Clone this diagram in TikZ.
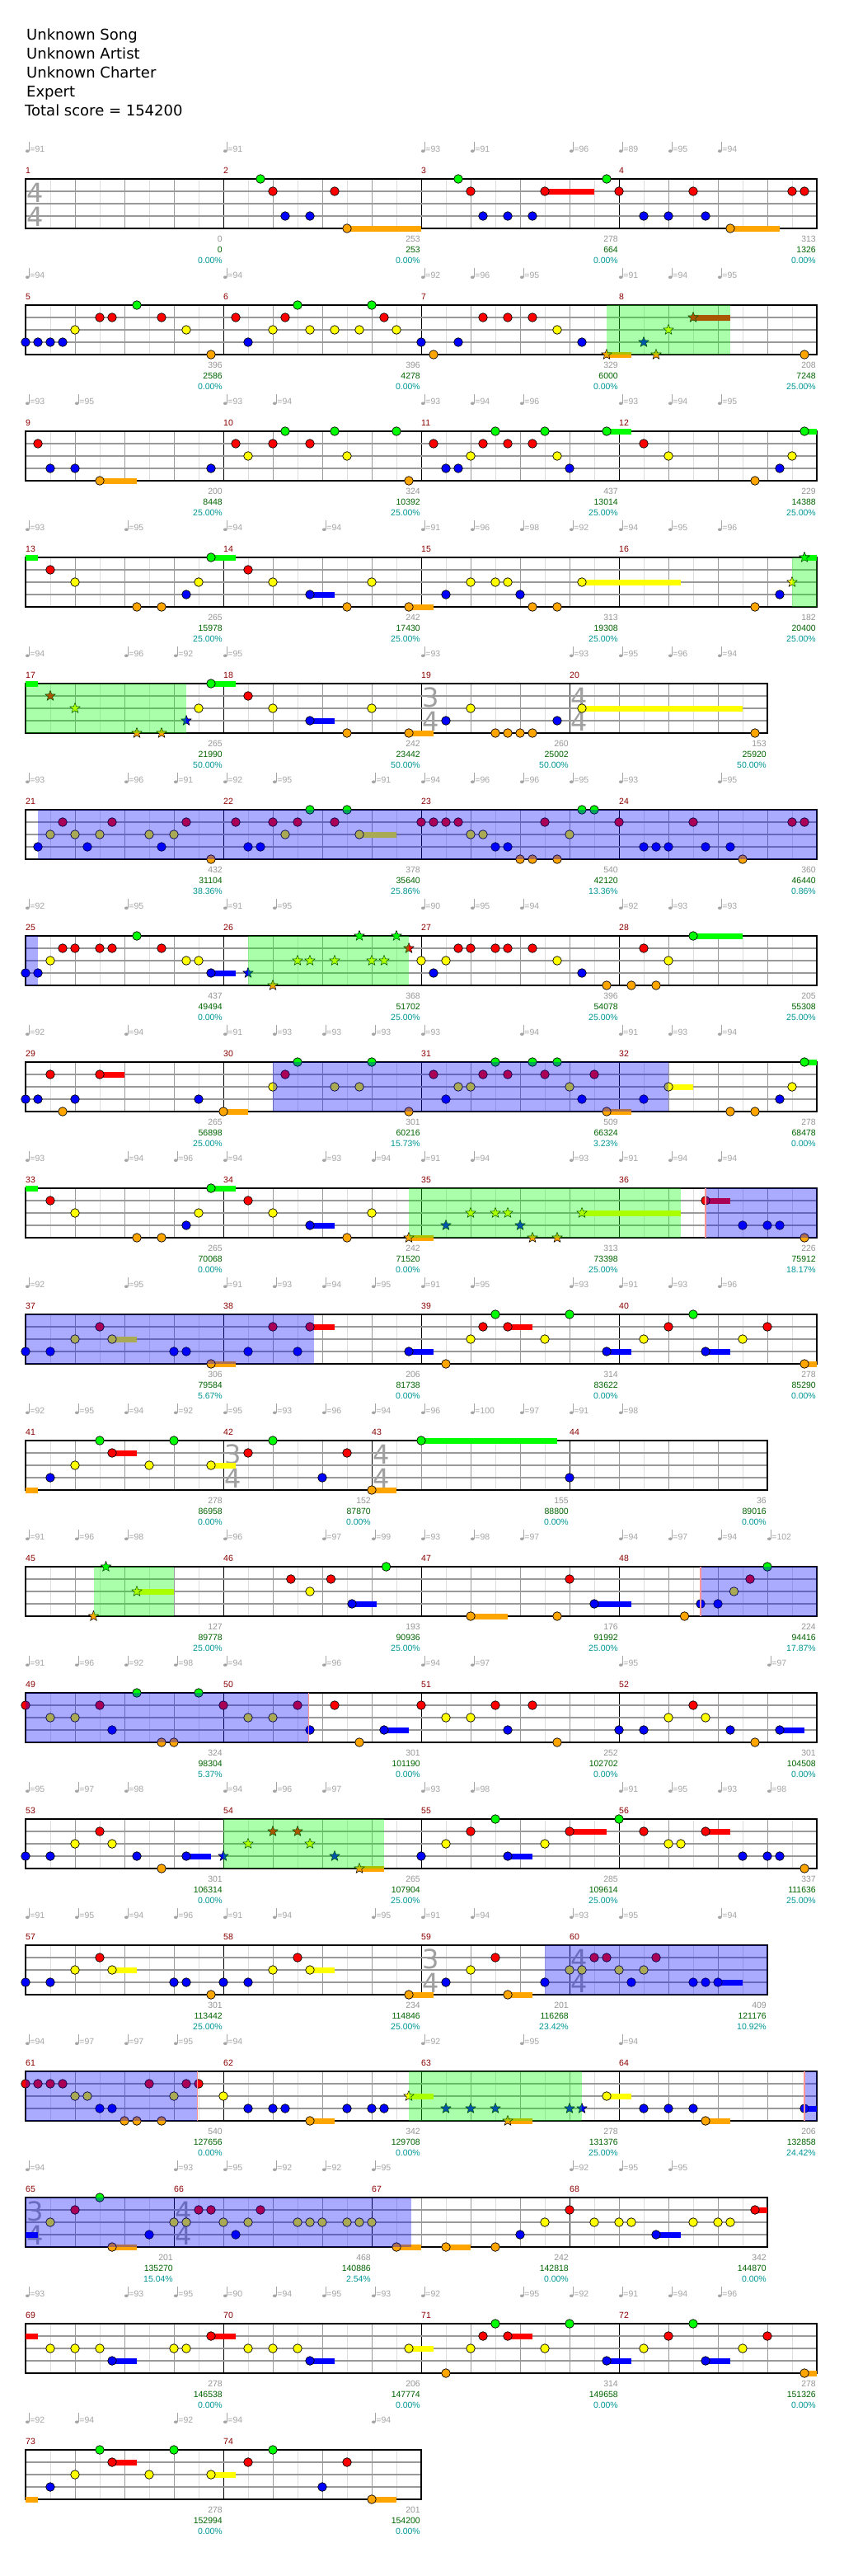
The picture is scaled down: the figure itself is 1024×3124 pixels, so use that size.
\documentclass[tikz,border=0pt]{standalone}
\usepackage{fontspec}
\setmainfont{DejaVu Sans}
\newfontfamily\smallf{Liberation Sans}
\usetikzlibrary{shapes.geometric}
\definecolor{cG}{RGB}{0,255,0}
\definecolor{cR}{RGB}{255,0,0}
\definecolor{cY}{RGB}{255,255,0}
\definecolor{cB}{RGB}{0,0,255}
\definecolor{cO}{RGB}{255,165,0}
\definecolor{tgray}{RGB}{165,165,165}
\definecolor{scgray}{RGB}{150,150,150}
\definecolor{totg}{RGB}{0,100,0}
\definecolor{pctc}{RGB}{0,150,150}
\definecolor{mnumc}{RGB}{139,0,0}
\definecolor{lgridc}{RGB}{221,221,221}
\definecolor{dgridc}{RGB}{153,153,153}
\definecolor{pinkc}{RGB}{255,150,150}
\definecolor{tsc}{RGB}{160,160,160}
\def\lyG{0}\def\lyR{15}\def\lyY{30}\def\lyB{45}\def\lyO{60}
\tikzset{
  lgrid/.style={draw=lgridc,line width=0.8pt},
  dgrid/.style={draw=dgridc,line width=0.8pt},
  mline/.style={draw=black,line width=0.8pt},
  hline/.style={draw=dgridc,line width=1.2pt},
  border/.style={draw=black,line width=1.3pt},
  notec/.style={draw=black,line width=0.7pt},
  starn/.style={star,star points=5,star point ratio=2.3,minimum size=13pt,inner sep=0pt,draw=black,line width=0.5pt},
  smalltxt/.style={inner sep=0pt,font=\smallf\fontsize{10.5}{12}\selectfont},
  titletxt/.style={anchor=base west,inner sep=0pt,font=\fontsize{18}{20}\selectfont},
  tsfont/.style={inner sep=0pt,text=tsc,font=\fontsize{32}{34}\selectfont}
}
\newcommand\grid[2]{%
  \pgfmathtruncatemacro\lastl{#1-2}\pgfmathtruncatemacro\lastg{#1-4}%
  \foreach \k in {2,6,...,\lastl} \draw[lgrid] (\k,0)--(\k,60);
  \foreach \k in {4,8,...,\lastg} \draw[dgrid] (\k,0)--(\k,60);
  \foreach \k in {#2} \draw[mline] (\k,0)--(\k,60);
  \foreach \v in {15,30,45} \draw[hline] (0,\v)--(#1,\v);
  \draw[border] (0,0) rectangle (#1,60);
}
\newcommand\NT[2]{\foreach \s in {#2}{\filldraw[notec,fill=c#1] (\s,\csname ly#1\endcsname) circle[radius=5.3pt];}}
\newcommand\ST[2]{\foreach \s in {#2}{\node[starn,fill=c#1] at (\s,\csname ly#1\endcsname) {};}}
\newcommand\SU[2]{\foreach \a/\b in {#2}{\fill[c#1] (\a,\csname ly#1\endcsname-3.5) rectangle (\b,\csname ly#1\endcsname+3.5);}}
\newcommand\SPR[2]{\fill[cG,fill opacity=0.333] (#1,0) rectangle (#2,60);}
\newcommand\BPR[2]{\fill[cB,fill opacity=0.333] (#1,0) rectangle (#2,60);}
\newcommand\PK[1]{\draw[pinkc,line width=1.5pt] (#1,0)--(#1,60);}
\newcommand\TS[3]{\node[tsfont] at ([xshift=12pt]#1,17) {#2};\node[tsfont] at ([xshift=12pt]#1,46) {#3};}
\newcommand\TP[1]{\foreach \s/\v in {#1}{%
  \fill[tgray] ([xshift=2.3pt]\s,-33.8) ellipse[x radius=2.4pt,y radius=1.8pt];
  \draw[tgray,line width=0.7pt] ([xshift=4.5pt]\s,-33.8) -- ([xshift=4.5pt]\s,-45);
  \node[smalltxt,anchor=base west,text=tgray] at ([xshift=5.2pt]\s,-32.3) {=\v};}}
\newcommand\MS[6]{%
  \node[smalltxt,anchor=base west,text=mnumc] at (#1,-7) {#3};
  \node[smalltxt,anchor=base east,text=scgray] at ([xshift=-1pt]#2,76) {#4};
  \node[smalltxt,anchor=base east,text=totg] at ([xshift=-1pt]#2,89) {#5};
  \node[smalltxt,anchor=base east,text=pctc] at ([xshift=-1pt]#2,102) {#6};}
\begin{document}
\begin{tikzpicture}[x=1pt,y=-1pt]
\path[use as bounding box,fill=white] (0,0) rectangle (1024,3124);
\node[titletxt] (t1) at (32,48.2) {Unknown Song};
\node[titletxt] (t2) at (32,71.5) {Unknown Artist};
\node[titletxt] (t3) at (32,94.5) {Unknown Charter};
\node[titletxt] (t4) at (32,117.5) {Expert};
\node[titletxt] (t5) at (30,140.5) {Total score = 154200};
% Row 0
\begin{scope}[shift={(31,217)},x=15pt]
\TP{0/91,16/91,32/93,36/91,44/96,48/89,52/95,56/94}
\grid{64}{16,32,48}
\TS{0}{4}{4}
\MS{0}{16}{1}{0}{0}{0.00\%}\MS{16}{32}{2}{253}{253}{0.00\%}\MS{32}{48}{3}{278}{664}{0.00\%}\MS{48}{64}{4}{313}{1326}{0.00\%}
\SU{R}{42/46}\SU{O}{26/32,57/61}
\NT{G}{19,35,47}\NT{R}{20,25,36,42,48,54,62,63}\NT{B}{21,23,37,39,41,50,52,55}\NT{O}{26,57}
\end{scope}
% Row 1
\begin{scope}[shift={(31,370)},x=15pt]
\TP{0/94,16/94,32/92,36/96,40/95,48/91,52/94,56/95}
\grid{64}{16,32,48}
\MS{0}{16}{5}{396}{2586}{0.00\%}\MS{16}{32}{6}{396}{4278}{0.00\%}\MS{32}{48}{7}{329}{6000}{0.00\%}\MS{48}{64}{8}{208}{7248}{25.00\%}
\SU{O}{47/49}\SU{R}{54/57}
\NT{G}{9,22,28}\NT{R}{6,7,11,17,21,29,37,39,41}\NT{Y}{4,13,20,23,25,27,30,43}\NT{B}{0,1,2,3,18,32,35,45}\NT{O}{15,33,63}
\ST{O}{47,51}\ST{B}{50}\ST{Y}{52}\ST{R}{54}
\SPR{47}{57}
\end{scope}
% Row 2
\begin{scope}[shift={(31,523)},x=15pt]
\TP{0/93,4/95,16/93,20/94,32/93,36/94,40/96,48/93,52/94,56/95}
\grid{64}{16,32,48}
\MS{0}{16}{9}{200}{8448}{25.00\%}\MS{16}{32}{10}{324}{10392}{25.00\%}\MS{32}{48}{11}{437}{13014}{25.00\%}\MS{48}{64}{12}{229}{14388}{25.00\%}
\SU{G}{47/49,63/64}\SU{O}{6/9}
\NT{G}{21,25,30,38,42,47,63}\NT{R}{1,17,20,23,33,37,39,41,50}\NT{Y}{18,26,36,43,52,62}\NT{B}{2,4,15,34,35,44,61}\NT{O}{6,31,59}
\end{scope}
% Row 3
\begin{scope}[shift={(31,676)},x=15pt]
\TP{0/93,8/95,16/94,24/94,32/91,36/96,40/98,44/92,48/94,52/95,56/96}
\grid{64}{16,32,48}
\MS{0}{16}{13}{265}{15978}{25.00\%}\MS{16}{32}{14}{242}{17430}{25.00\%}\MS{32}{48}{15}{313}{19308}{25.00\%}\MS{48}{64}{16}{182}{20400}{25.00\%}
\SU{G}{0/1,15/17,63/64}\SU{Y}{45/53}\SU{B}{23/25}\SU{O}{31/33}
\NT{G}{15}\NT{R}{2,18}\NT{Y}{4,14,20,28,36,38,39,45}\NT{B}{13,23,34,40,61}\NT{O}{9,11,26,31,41,43,59}
\ST{G}{63}\ST{Y}{62}
\SPR{62}{64}
\end{scope}
% Row 4
\begin{scope}[shift={(31,829)},x=15pt]
\TP{0/94,8/96,12/92,16/95,32/93,44/93,48/95,52/96,56/94}
\grid{60}{16,32,44}
\TS{32}{3}{4}\TS{44}{4}{4}
\MS{0}{16}{17}{265}{21990}{50.00\%}\MS{16}{32}{18}{242}{23442}{50.00\%}\MS{32}{44}{19}{260}{25002}{50.00\%}\MS{44}{60}{20}{153}{25920}{50.00\%}
\SU{G}{0/1,15/17}\SU{Y}{45/58}\SU{B}{23/25}\SU{O}{31/33}
\NT{G}{15}\NT{R}{18}\NT{Y}{14,20,28,36,45}\NT{B}{23,34,43}\NT{O}{26,31,38,39,40,41,59}
\ST{R}{2}\ST{Y}{4}\ST{B}{13}\ST{O}{9,11}
\SPR{0}{13}
\end{scope}
% Row 5
\begin{scope}[shift={(31,982)},x=15pt]
\TP{0/93,8/96,12/91,16/92,20/95,28/91,32/94,36/96,40/96,44/95,48/93,56/95}
\grid{64}{16,32,48}
\MS{0}{16}{21}{432}{31104}{38.36\%}\MS{16}{32}{22}{378}{35640}{25.86\%}\MS{32}{48}{23}{540}{42120}{13.36\%}\MS{48}{64}{24}{360}{46440}{0.86\%}
\SU{Y}{27/30}
\NT{G}{23,26,45,46}\NT{R}{3,7,13,17,20,22,25,32,33,34,35,42,48,54,62,63}\NT{Y}{2,4,6,10,12,21,27,36,37,44}\NT{B}{1,5,11,18,19,38,39,50,51,52,55,57}\NT{O}{15,40,41,43,58}
\BPR{1}{64}
\end{scope}
% Row 6
\begin{scope}[shift={(31,1135)},x=15pt]
\TP{0/92,8/95,16/91,20/95,32/90,36/95,40/94,48/92,52/93,56/93}
\grid{64}{16,32,48}
\MS{0}{16}{25}{437}{49494}{0.00\%}\MS{16}{32}{26}{368}{51702}{25.00\%}\MS{32}{48}{27}{396}{54078}{25.00\%}\MS{48}{64}{28}{205}{55308}{25.00\%}
\SU{G}{54/58}\SU{B}{15/17}
\NT{G}{9,54}\NT{R}{3,4,6,7,11,35,36,38,39,41,50}\NT{Y}{2,13,14,32,34,43,52}\NT{B}{0,1,15,33,45}\NT{O}{47,49,51}
\ST{G}{27,30}\ST{R}{31}\ST{Y}{22,23,25,28,29}\ST{B}{18}\ST{O}{20}
\BPR{0}{1}\SPR{18}{31}
\end{scope}
% Row 7
\begin{scope}[shift={(31,1288)},x=15pt]
\TP{0/92,8/94,16/91,20/93,24/93,28/93,32/93,40/94,48/91,52/93,56/94}
\grid{64}{16,32,48}
\MS{0}{16}{29}{265}{56898}{25.00\%}\MS{16}{32}{30}{301}{60216}{15.73\%}\MS{32}{48}{31}{509}{66324}{3.23\%}\MS{48}{64}{32}{278}{68478}{0.00\%}
\SU{G}{63/64}\SU{R}{6/8}\SU{Y}{52/54}\SU{O}{16/18,47/49}
\NT{G}{22,28,38,41,43,63}\NT{R}{2,6,21,33,37,39,42,46}\NT{Y}{20,25,27,35,36,44,52,62}\NT{B}{0,1,4,14,34,45,50,61}\NT{O}{3,16,31,47,57,59}
\BPR{20}{52}
\end{scope}
% Row 8
\begin{scope}[shift={(31,1441)},x=15pt]
\TP{0/93,8/94,12/96,16/94,24/93,28/94,32/91,36/94,44/93,48/91,52/94,56/94}
\grid{64}{16,32,48}
\MS{0}{16}{33}{265}{70068}{0.00\%}\MS{16}{32}{34}{242}{71520}{0.00\%}\MS{32}{48}{35}{313}{73398}{25.00\%}\MS{48}{64}{36}{226}{75912}{18.17\%}
\SU{G}{0/1,15/17}\SU{R}{55/57}\SU{Y}{45/53}\SU{B}{23/25}\SU{O}{31/33}
\NT{G}{15}\NT{R}{2,18,55}\NT{Y}{4,14,20,28}\NT{B}{13,23,58,60,61}\NT{O}{9,11,26,63}
\ST{Y}{36,38,39,45}\ST{B}{34,40}\ST{O}{31,41,43}
\SPR{31}{53}\BPR{55}{64}\PK{55}
\end{scope}
% Row 9
\begin{scope}[shift={(31,1594)},x=15pt]
\TP{0/92,8/95,16/91,20/93,24/94,28/95,32/91,36/95,44/93,48/91,52/93,56/96}
\grid{64}{16,32,48}
\MS{0}{16}{37}{306}{79584}{5.67\%}\MS{16}{32}{38}{206}{81738}{0.00\%}\MS{32}{48}{39}{314}{83622}{0.00\%}\MS{48}{64}{40}{278}{85290}{0.00\%}
\SU{R}{23/25,39/41}\SU{Y}{7/9}\SU{B}{31/33,47/49,55/57}\SU{O}{15/17,63/64}
\NT{G}{38,44,54}\NT{R}{6,20,23,37,39,52,60}\NT{Y}{4,7,36,42,50,58}\NT{B}{0,2,12,13,18,22,31,47,55}\NT{O}{15,34,63}
\BPR{0}{23.3}
\end{scope}
% Row 10
\begin{scope}[shift={(31,1747)},x=15pt]
\TP{0/92,4/95,8/94,12/92,16/95,20/93,24/96,28/94,32/96,36/100,40/97,44/91,48/98}
\grid{60}{16,28,44}
\TS{16}{3}{4}\TS{28}{4}{4}
\MS{0}{16}{41}{278}{86958}{0.00\%}\MS{16}{28}{42}{152}{87870}{0.00\%}\MS{28}{44}{43}{155}{88800}{0.00\%}\MS{44}{60}{44}{36}{89016}{0.00\%}
\SU{G}{32/43}\SU{R}{7/9}\SU{Y}{15/17}\SU{O}{0/1,28/30}
\NT{G}{6,12,20,32}\NT{R}{7,18,26}\NT{Y}{4,10,15}\NT{B}{2,24,44}\NT{O}{28}
\end{scope}
% Row 11
\begin{scope}[shift={(31,1900)},x=15pt]
\TP{0/91,4/96,8/98,16/96,24/97,28/99,32/93,36/98,40/97,48/94,52/97,56/94,60/102}
\grid{64}{16,32,48}
\MS{0}{16}{45}{127}{89778}{25.00\%}\MS{16}{32}{46}{193}{90936}{25.00\%}\MS{32}{48}{47}{176}{91992}{25.00\%}\MS{48}{64}{48}{224}{94416}{17.87\%}
\SU{Y}{9/12}\SU{B}{26.4/28.4,46/49}\SU{O}{36/39}
\NT{G}{29.17,60}\NT{R}{21.46,24.7,44,58.6}\NT{Y}{23,57.3}\NT{B}{26.4,46,54.6,56}\NT{O}{36,43,53.3}
\ST{G}{6.5}\ST{Y}{9}\ST{O}{5.5}
\SPR{5.5}{12}\BPR{54.6}{64}\PK{54.6}
\end{scope}
% Row 12
\begin{scope}[shift={(31,2053)},x=15pt]
\TP{0/91,4/96,8/92,12/98,16/94,24/96,32/94,36/97,48/95,60/97}
\grid{64}{16,32,48}
\MS{0}{16}{49}{324}{98304}{5.37\%}\MS{16}{32}{50}{301}{101190}{0.00\%}\MS{32}{48}{51}{252}{102702}{0.00\%}\MS{48}{64}{52}{301}{104508}{0.00\%}
\SU{B}{29/31,61/63}
\NT{G}{9,14}\NT{R}{0,6,16,22,25,32,38,41,54}\NT{Y}{2,4,18,20,34,36,52,55}\NT{B}{7,23,29,39,48,50,57,61}\NT{O}{11,12,27,43,59}
\BPR{0}{22.9}\PK{22.9}
\end{scope}
% Row 13
\begin{scope}[shift={(31,2206)},x=15pt]
\TP{0/95,4/97,8/98,16/94,20/96,24/97,32/93,36/98,48/91,52/95,56/93,60/98}
\grid{64}{16,32,48}
\MS{0}{16}{53}{301}{106314}{0.00\%}\MS{16}{32}{54}{265}{107904}{25.00\%}\MS{32}{48}{55}{285}{109614}{25.00\%}\MS{48}{64}{56}{337}{111636}{25.00\%}
\SU{R}{44/47,55/57}\SU{B}{13/15,39/41}\SU{O}{27/29}
\NT{G}{38,48}\NT{R}{6,36,44,50,55}\NT{Y}{4,7,34,42,52,53}\NT{B}{0,2,9,13,32,39,58,60,61}\NT{O}{11,63}
\ST{R}{20,22}\ST{Y}{18,23}\ST{B}{16,25}\ST{O}{27}
\SPR{16}{29}
\end{scope}
% Row 14
\begin{scope}[shift={(31,2359)},x=15pt]
\TP{0/91,4/95,8/94,12/96,16/91,20/94,28/95,32/91,36/94,44/93,48/95,56/94}
\grid{60}{16,32,44}
\TS{32}{3}{4}\TS{44}{4}{4}
\MS{0}{16}{57}{301}{113442}{25.00\%}\MS{16}{32}{58}{234}{114846}{25.00\%}\MS{32}{44}{59}{201}{116268}{23.42\%}\MS{44}{60}{60}{409}{121176}{10.92\%}
\SU{Y}{7/9,23/25}\SU{B}{56/58}\SU{O}{31/33,39/41}
\NT{R}{6,22,38,46,47,51}\NT{Y}{4,7,20,23,36,44,45,48,50}\NT{B}{0,2,12,13,16,18,34,42,49,54,55,56}\NT{O}{15,31,39}
\BPR{42}{60}
\end{scope}
% Row 15
\begin{scope}[shift={(31,2512)},x=15pt]
\TP{0/94,4/97,8/97,12/95,16/94,32/92,40/95,48/94}
\grid{64}{16,32,48}
\MS{0}{16}{61}{540}{127656}{0.00\%}\MS{16}{32}{62}{342}{129708}{0.00\%}\MS{32}{48}{63}{278}{131376}{25.00\%}\MS{48}{64}{64}{206}{132858}{24.42\%}
\SU{Y}{31/33,47/49}\SU{B}{63/64}\SU{O}{23/25,39/41,55/57}
\NT{R}{0,1,2,3,10,13,14}\NT{Y}{4,5,12,16,47}\NT{B}{6,7,18,20,21,26,28,29,50,52,54,63}\NT{O}{8,9,11,23,55}
\ST{Y}{31}\ST{B}{34,36,38,44,45}\ST{O}{39}
\BPR{0}{13.9}\PK{13.9}\SPR{31}{45}\BPR{63}{64}\PK{63}
\end{scope}
% Row 16
\begin{scope}[shift={(31,2665)},x=15pt]
\TP{0/94,12/93,16/95,20/92,24/92,28/95,44/92,48/95,52/95}
\grid{60}{12,28,44}
\TS{0}{3}{4}\TS{12}{4}{4}
\MS{0}{12}{65}{201}{135270}{15.04\%}\MS{12}{28}{66}{468}{140886}{2.54\%}\MS{28}{44}{67}{242}{142818}{0.00\%}\MS{44}{60}{68}{342}{144870}{0.00\%}
\SU{R}{59/60}\SU{B}{0/1,51/53}\SU{O}{7/9,30/32,34/36}
\NT{G}{6}\NT{R}{4,14,15,19,44,59}\NT{Y}{2,12,13,16,18,22,23,24,26,27,28,42,46,48,49,54,56,57}\NT{B}{10,17,40,51}\NT{O}{7,30,34,38}
\BPR{0}{31.2}
\end{scope}
% Row 17
\begin{scope}[shift={(31,2818)},x=15pt]
\TP{0/93,8/93,12/95,16/90,20/94,24/95,28/93,32/92,40/95,44/92,48/91,52/94,56/96}
\grid{64}{16,32,48}
\MS{0}{16}{69}{278}{146538}{0.00\%}\MS{16}{32}{70}{206}{147774}{0.00\%}\MS{32}{48}{71}{314}{149658}{0.00\%}\MS{48}{64}{72}{278}{151326}{0.00\%}
\SU{R}{0/1,15/17,39/41}\SU{Y}{31/33}\SU{B}{7/9,23/25,47/49,55/57}\SU{O}{63/64}
\NT{G}{38,44,54}\NT{R}{15,37,39,52,60}\NT{Y}{2,4,6,12,13,18,20,22,31,36,42,50,58}\NT{B}{7,23,47,55}\NT{O}{34,63}
\end{scope}
% Row 18
\begin{scope}[shift={(31,2971)},x=15pt]
\TP{0/92,4/94,12/92,16/94,28/94}
\grid{32}{16}
\MS{0}{16}{73}{278}{152994}{0.00\%}\MS{16}{32}{74}{201}{154200}{0.00\%}
\SU{R}{7/9}\SU{Y}{15/17}\SU{O}{0/1,28/30}
\NT{G}{6,12,20}\NT{R}{7,18,26}\NT{Y}{4,10,15}\NT{B}{2,24}\NT{O}{28}
\end{scope}
\end{tikzpicture}
\end{document}
